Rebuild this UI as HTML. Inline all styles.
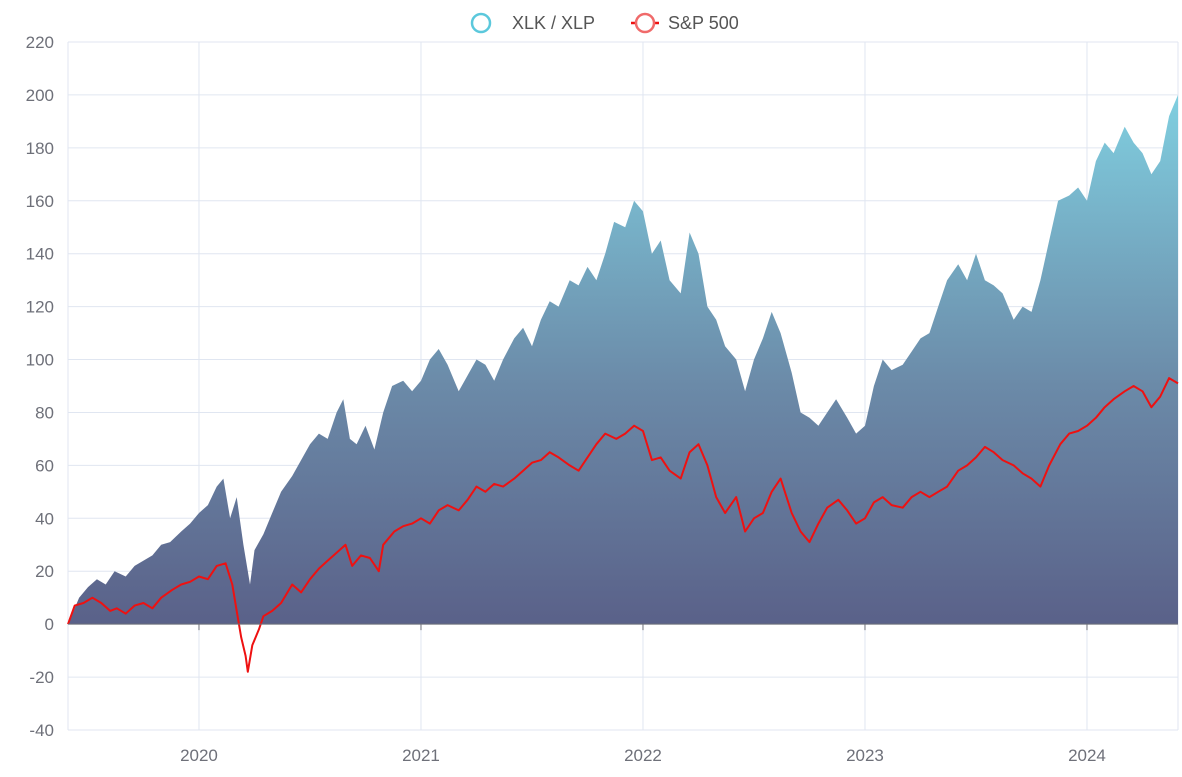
<!DOCTYPE html>
<html><head><meta charset="utf-8">
<style>
html,body{margin:0;padding:0;background:#fff;}
svg{display:block;font-family:"Liberation Sans",sans-serif;}
</style></head>
<body>
<svg id="chart" width="1182" height="777" viewBox="0 0 1182 777" xmlns="http://www.w3.org/2000/svg">
<defs>
<linearGradient id="areaGrad" x1="0" y1="0" x2="0" y2="1">
<stop offset="0" stop-color="#80cfe0"/>
<stop offset="0.55" stop-color="#6b8aa8"/>
<stop offset="1" stop-color="#5a6189"/>
</linearGradient>
</defs>
<g id="grid"></g>
<g id="series"></g>
<g id="axes"></g>
<g id="legend">
<circle cx="481" cy="23" r="9" fill="#fff" stroke="#5bc8dc" stroke-width="2.5"/>
<text x="512" y="29" font-size="18" fill="#555">XLK / XLP</text>
<line x1="631" y1="23" x2="659" y2="23" stroke="#ee1111" stroke-width="2.5"/>
<circle cx="645" cy="23" r="9" fill="#fff" stroke="#f06a6a" stroke-width="2.5"/>
<text x="668" y="29" font-size="18" fill="#555">S&amp;P 500</text>
</g>
</svg>
<script>
const yTicks = [-40,-20,0,20,40,60,80,100,120,140,160,180,200,220];
const xTickLabels = ["2020","2021","2022","2023","2024"];
const xTickYears = [2020,2021,2022,2023,2024];
const ratioDates = [2019.41,2019.46,2019.50,2019.54,2019.58,2019.62,2019.67,2019.71,2019.75,2019.79,2019.83,2019.87,2019.92,2019.96,2020.00,2020.04,2020.08,2020.11,2020.14,2020.17,2020.20,2020.23,2020.25,2020.29,2020.33,2020.37,2020.42,2020.46,2020.50,2020.54,2020.58,2020.62,2020.65,2020.68,2020.71,2020.75,2020.79,2020.83,2020.87,2020.92,2020.96,2021.00,2021.04,2021.08,2021.12,2021.17,2021.21,2021.25,2021.29,2021.33,2021.37,2021.42,2021.46,2021.50,2021.54,2021.58,2021.62,2021.67,2021.71,2021.75,2021.79,2021.83,2021.87,2021.92,2021.96,2022.00,2022.04,2022.08,2022.12,2022.17,2022.21,2022.25,2022.29,2022.33,2022.37,2022.42,2022.46,2022.50,2022.54,2022.58,2022.62,2022.67,2022.71,2022.75,2022.79,2022.83,2022.87,2022.92,2022.96,2023.00,2023.04,2023.08,2023.12,2023.17,2023.21,2023.25,2023.29,2023.33,2023.37,2023.42,2023.46,2023.50,2023.54,2023.58,2023.62,2023.67,2023.71,2023.75,2023.79,2023.83,2023.87,2023.92,2023.96,2024.00,2024.04,2024.08,2024.12,2024.17,2024.21,2024.25,2024.29,2024.33,2024.37,2024.41];
const ratioValues = [0,10,14,17,15,20,18,22,24,26,30,31,35,38,42,45,52,55,40,48,30,15,28,34,42,50,56,62,68,72,70,80,85,70,68,75,66,80,90,92,88,92,100,104,98,88,94,100,98,92,100,108,112,105,115,122,120,130,128,135,130,140,152,150,160,156,140,145,130,125,148,140,120,115,105,100,88,100,108,118,110,95,80,78,75,80,85,78,72,75,90,100,96,98,103,108,110,120,130,136,130,140,130,128,125,115,120,118,130,145,160,162,165,160,175,182,178,188,182,178,170,175,192,200];
const spDates = [2019.41,2019.44,2019.48,2019.52,2019.56,2019.60,2019.63,2019.67,2019.71,2019.75,2019.79,2019.83,2019.88,2019.92,2019.96,2020.00,2020.04,2020.08,2020.12,2020.15,2020.17,2020.19,2020.21,2020.22,2020.24,2020.27,2020.29,2020.33,2020.37,2020.42,2020.46,2020.50,2020.54,2020.58,2020.62,2020.66,2020.69,2020.73,2020.77,2020.81,2020.83,2020.88,2020.92,2020.96,2021.00,2021.04,2021.08,2021.12,2021.17,2021.21,2021.25,2021.29,2021.33,2021.37,2021.42,2021.46,2021.50,2021.54,2021.58,2021.62,2021.67,2021.71,2021.75,2021.79,2021.83,2021.88,2021.92,2021.96,2022.00,2022.04,2022.08,2022.12,2022.17,2022.21,2022.25,2022.29,2022.33,2022.37,2022.42,2022.46,2022.50,2022.54,2022.58,2022.62,2022.67,2022.71,2022.75,2022.79,2022.83,2022.88,2022.92,2022.96,2023.00,2023.04,2023.08,2023.12,2023.17,2023.21,2023.25,2023.29,2023.33,2023.37,2023.42,2023.46,2023.50,2023.54,2023.58,2023.62,2023.67,2023.71,2023.75,2023.79,2023.83,2023.88,2023.92,2023.96,2024.00,2024.04,2024.08,2024.12,2024.17,2024.21,2024.25,2024.29,2024.33,2024.37,2024.41];
const spValues = [0,7,8,10,8,5,6,4,7,8,6,10,13,15,16,18,17,22,23,15,5,-5,-12,-18,-8,-2,3,5,8,15,12,17,21,24,27,30,22,26,25,20,30,35,37,38,40,38,43,45,43,47,52,50,53,52,55,58,61,62,65,63,60,58,63,68,72,70,72,75,73,62,63,58,55,65,68,60,48,42,48,35,40,42,50,55,42,35,31,38,44,47,43,38,40,46,48,45,44,48,50,48,50,52,58,60,63,67,65,62,60,57,55,52,60,68,72,73,75,78,82,85,88,90,88,82,86,93,91];

const NS="http://www.w3.org/2000/svg";
const L=68,R=1178,T=42,B=730,Y0=-40,Y1=220,X0=2019.41,X1=2024.41;
const xs=v=>L+(v-X0)/(X1-X0)*(R-L);
const ys=v=>B-(v-Y0)/(Y1-Y0)*(B-T);
function mk(tag,attrs,parent){const e=document.createElementNS(NS,tag);for(const k in attrs)e.setAttribute(k,attrs[k]);parent.appendChild(e);return e;}
const grid=document.getElementById('grid'),series=document.getElementById('series'),axes=document.getElementById('axes');
yTicks.forEach(t=>{
  const ln=mk('line',{x1:L,x2:R,y1:ys(t),y2:ys(t),stroke:'#e0e6f1','stroke-width':1},grid);
  
  
  const tx=mk('text',{x:54,y:ys(t)+6,'text-anchor':'end','font-size':17,fill:'#6e7079'},axes);
  tx.textContent=t;
  
  
});
const lb=mk('line',{x1:L,x2:L,y1:T,y2:B,stroke:'#e0e6f1'},grid);


const rb=mk('line',{x1:R,x2:R,y1:T,y2:B,stroke:'#e0e6f1'},grid);


xTickYears.forEach((yr,i)=>{
  const x=xs(yr);
  const g=mk('line',{x1:x,x2:x,y1:T,y2:B,stroke:'#e0e6f1'},grid);
  
  
  const tk=mk('line',{x1:x,x2:x,y1:ys(0),y2:ys(0)+6,stroke:'#6e7079'},axes);
  
  
  const tx=mk('text',{x:x,y:761,'text-anchor':'middle','font-size':17,fill:'#6e7079'},axes);
  tx.textContent=xTickLabels[i];
  
  
});
let d='M'+xs(ratioDates[0])+','+ys(0);
ratioDates.forEach((t,i)=>{d+=' L'+xs(t).toFixed(1)+','+ys(ratioValues[i]).toFixed(1);});
d+=' L'+xs(ratioDates[ratioDates.length-1])+','+ys(0)+' Z';
const area=mk('path',{d:d,fill:'url(#areaGrad)',stroke:'none'},series);


const ax=mk('line',{x1:L,x2:R,y1:ys(0),y2:ys(0),stroke:'#6e7079','stroke-width':1},axes);


let p='';
spDates.forEach((t,i)=>{p+=(i?' L':'M')+xs(t).toFixed(1)+','+ys(spValues[i]).toFixed(1);});
const line=mk('path',{d:p,fill:'none',stroke:'#ee1111','stroke-width':2,'stroke-linejoin':'round'},series);


</script>
</body></html>
